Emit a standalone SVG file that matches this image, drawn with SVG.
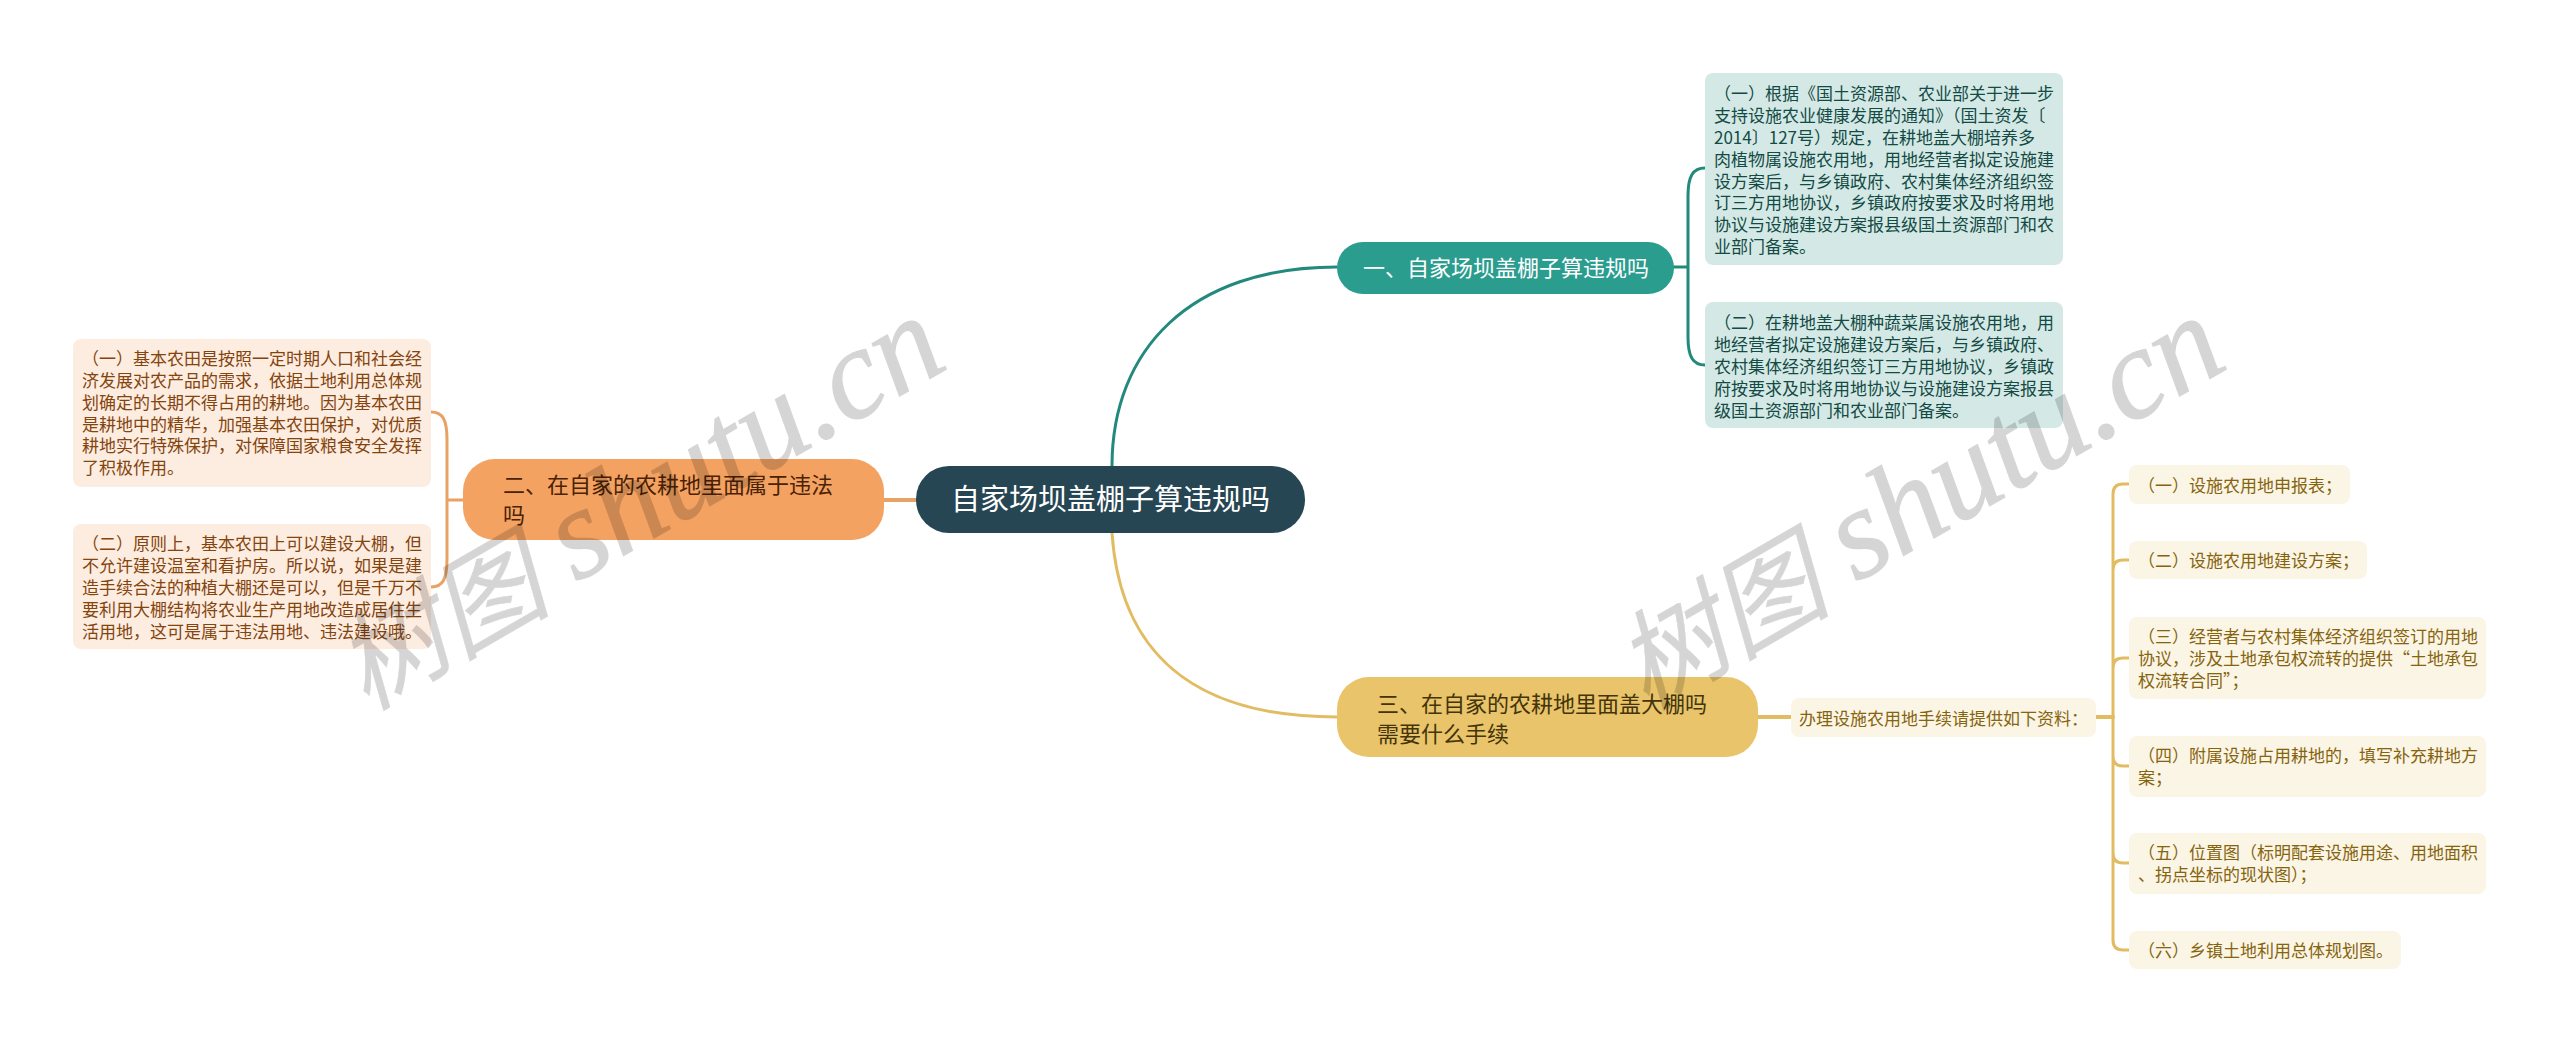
<svg xmlns="http://www.w3.org/2000/svg" width="2560" height="1043" viewBox="0 0 2560 1043">
<style>
text{font-family:"Noto Sans CJK SC","Noto Sans",sans-serif}
.c{fill:none;stroke-linecap:round}
.g{stroke:#23897d}.o{stroke:#e9a265}.y{stroke:#e2bc62}
.leafg rect{fill:#d4e9e6}.leafg text{fill:#134a44;font-size:17px}
.leafo rect{fill:#fdece0}.leafo text{fill:#84440e;font-size:17px}
.leafy rect{fill:#fbf5e6}.leafy text{fill:#86640e;font-size:17px}
.topic text{font-size:22px}
.wm text{font-style:italic;fill:#000;stroke:#000;opacity:.16}
.wl{font-family:"Liberation Serif",serif;font-size:129px;stroke-width:1.2px}
.wc{font-size:108px;stroke-width:.5px}
</style>
<rect width="2560" height="1043" fill="#fff"/>
<g id="connectors">
<path class="c g" stroke-width="3" d="M1112 466C1112 350 1190 267 1337 267"/>
<path class="c y" stroke-width="3" d="M1112 533C1120 650 1190 717 1337 717"/>
<path class="c o" stroke-width="4" d="M884 500H916"/>
<path class="c g" stroke-width="3" d="M1673 267H1688M1705 168C1693 168 1688 176 1688 196V337C1688 357 1693 365 1705 365"/>
<path class="c o" stroke-width="3" d="M463 500H447M431 412C443 412 447 420 447 440V559C447 579 443 587 431 587"/>
<path class="c y" stroke-width="4" d="M1758 717H1791M2096 717H2113"/>
<path class="c y" stroke-width="3" d="M2129 484H2123Q2113 484 2113 494V940Q2113 950 2123 950H2129M2129 560H2123Q2113 560 2113 570M2129 658H2123Q2113 658 2113 668M2113 756Q2113 766 2123 766H2129M2113 853Q2113 863 2123 863H2129"/>
</g>
<g id="root"><rect x="916" y="466" width="389" height="67" rx="33" fill="#264653"/><text x="951" y="510" font-size="29" fill="#fff">自家场坝盖棚子算违规吗</text></g>
<g id="topic1" class="topic"><rect x="1337" y="242" width="337" height="52" rx="26" fill="#2a9d8f"/><text x="1363" y="276" fill="#fff">一、自家场坝盖棚子算违规吗</text></g>
<g id="topic2" class="topic"><rect x="463" y="459" width="421" height="81" rx="32" fill="#f4a261"/><text fill="#4a2205"><tspan x="503" y="493">二、在自家的农耕地里面属于违法</tspan><tspan x="503" y="523">吗</tspan></text></g>
<g id="topic3" class="topic"><rect x="1337" y="677" width="421" height="80" rx="32" fill="#e9c46a"/><text fill="#43340a"><tspan x="1377" y="712">三、在自家的农耕地里面盖大棚吗</tspan><tspan x="1377" y="742">需要什么手续</tspan></text></g>
<g id="leaf1a" class="leafg"><rect x="1705" y="73" width="358" height="192" rx="8"/><text><tspan x="1714" y="100">（一）根据《国土资源部、农业部关于进一步</tspan><tspan x="1714" y="122">支持设施农业健康发展的通知》（国土资发〔</tspan><tspan x="1714" y="144">2014〕127号）规定，在耕地盖大棚培养多</tspan><tspan x="1714" y="166">肉植物属设施农用地，用地经营者拟定设施建</tspan><tspan x="1714" y="188">设方案后，与乡镇政府、农村集体经济组织签</tspan><tspan x="1714" y="209">订三方用地协议，乡镇政府按要求及时将用地</tspan><tspan x="1714" y="231">协议与设施建设方案报县级国土资源部门和农</tspan><tspan x="1714" y="253">业部门备案。</tspan></text></g>
<g id="leaf1b" class="leafg"><rect x="1705" y="302" width="358" height="126" rx="8"/><text><tspan x="1714" y="329">（二）在耕地盖大棚种蔬菜属设施农用地，用</tspan><tspan x="1714" y="351">地经营者拟定设施建设方案后，与乡镇政府、</tspan><tspan x="1714" y="373">农村集体经济组织签订三方用地协议，乡镇政</tspan><tspan x="1714" y="395">府按要求及时将用地协议与设施建设方案报县</tspan><tspan x="1714" y="417">级国土资源部门和农业部门备案。</tspan></text></g>
<g id="leaf2a" class="leafo"><rect x="73" y="339" width="358" height="148" rx="8"/><text><tspan x="82" y="365">（一）基本农田是按照一定时期人口和社会经</tspan><tspan x="82" y="387">济发展对农产品的需求，依据土地利用总体规</tspan><tspan x="82" y="409">划确定的长期不得占用的耕地。因为基本农田</tspan><tspan x="82" y="431">是耕地中的精华，加强基本农田保护，对优质</tspan><tspan x="82" y="452">耕地实行特殊保护，对保障国家粮食安全发挥</tspan><tspan x="82" y="474">了积极作用。</tspan></text></g>
<g id="leaf2b" class="leafo"><rect x="73" y="524" width="358" height="125" rx="8"/><text><tspan x="82" y="550">（二）原则上，基本农田上可以建设大棚，但</tspan><tspan x="82" y="572">不允许建设温室和看护房。所以说，如果是建</tspan><tspan x="82" y="594">造手续合法的种植大棚还是可以，但是千万不</tspan><tspan x="82" y="616">要利用大棚结构将农业生产用地改造成居住生</tspan><tspan x="82" y="638">活用地，这可是属于违法用地、违法建设哦。</tspan></text></g>
<g id="leaf3" class="leafy"><rect x="1791" y="698" width="305" height="39" rx="8"/><text x="1799" y="725">办理设施农用地手续请提供如下资料：</text></g>
<g id="leaf3a" class="leafy"><rect x="2129" y="465" width="221" height="39" rx="8"/><text x="2138" y="492">（一）设施农用地申报表；</text></g>
<g id="leaf3b" class="leafy"><rect x="2129" y="541" width="238" height="38" rx="8"/><text x="2138" y="567">（二）设施农用地建设方案；</text></g>
<g id="leaf3c" class="leafy"><rect x="2129" y="617" width="357" height="82" rx="8"/><text><tspan x="2138" y="643">（三）经营者与农村集体经济组织签订的用地</tspan><tspan x="2138" y="665">协议，涉及土地承包权流转的提供“土地承包</tspan><tspan x="2138" y="687">权流转合同”；</tspan></text></g>
<g id="leaf3d" class="leafy"><rect x="2129" y="736" width="357" height="61" rx="8"/><text><tspan x="2138" y="762">（四）附属设施占用耕地的，填写补充耕地方</tspan><tspan x="2138" y="784">案；</tspan></text></g>
<g id="leaf3e" class="leafy"><rect x="2129" y="833" width="357" height="61" rx="8"/><text><tspan x="2138" y="859">（五）位置图（标明配套设施用途、用地面积</tspan><tspan x="2138" y="881">、拐点坐标的现状图）；</tspan></text></g>
<g id="leaf3f" class="leafy"><rect x="2129" y="931" width="272" height="38" rx="8"/><text x="2138" y="957">（六）乡镇土地利用总体规划图。</text></g>
<g id="watermarks" class="wm">
<g transform="translate(576 583) rotate(-30)"><text class="wc" x="-246" y="6">树图</text><text class="wl">shutu.cn</text></g>
<g transform="translate(1856 583) rotate(-30)"><text class="wc" x="-246" y="6">树图</text><text class="wl">shutu.cn</text></g>
</g>
</svg>
